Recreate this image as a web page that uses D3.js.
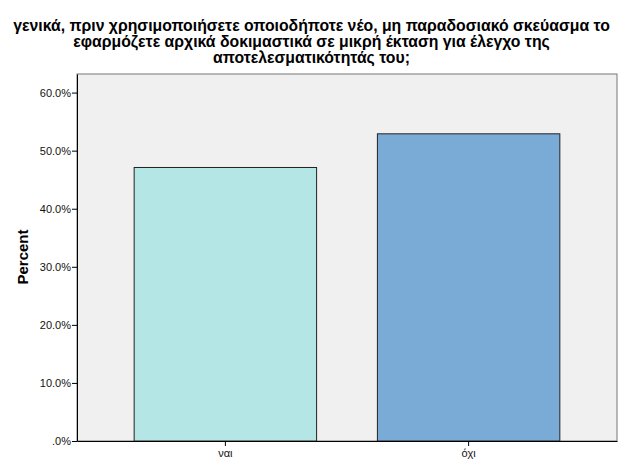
<!DOCTYPE html>
<html>
<head>
<meta charset="utf-8">
<script src="https://cdn.jsdelivr.net/npm/d3@7"></script>
<style>
  body { margin: 0; background: #fff; }
  text { font-family: Arial, "Liberation Sans", sans-serif; }
</style>
</head>
<body>
<script>
// data
const categories = ["ναι", "όχι"];
const percents = [47.1, 52.9];
const barColors = ["#b5e6e6", "#7aaad6"];
const yTicks = [0, 10, 20, 30, 40, 50, 60];
const titleLines = [
  "γενικά, πριν χρησιμοποιήσετε οποιοδήποτε νέο, μη παραδοσιακό σκεύασμα το",
  "εφαρμόζετε αρχικά δοκιμαστικά σε μικρή έκταση για έλεγχο της",
  "αποτελεσματικότητάς του;"
];

const w = 625, h = 462;
const plotLeft = 77, plotRight = 617, plotTop = 74, plotBottom = 441;

const svg = d3.select("body").append("svg")
  .attr("width", w)
  .attr("height", h);

// plot background
svg.append("rect")
  .attr("x", plotLeft).attr("y", plotTop)
  .attr("width", plotRight - plotLeft).attr("height", plotBottom - plotTop)
  .attr("fill", "#f0f0f0")
  .attr("stroke", "#777").attr("stroke-width", 1);

const x = d3.scaleBand()
  .domain(categories)
  .range([plotLeft, plotRight])
  .paddingInner(0.25)
  .paddingOuter(0.235);

const y = d3.scaleLinear()
  .domain([0, 63.2])
  .range([plotBottom, plotTop]);

svg.selectAll("rect.bar")
  .data(percents)
  .enter()
  .append("rect")
  .attr("class", "bar")
  .attr("x", (d, i) => x(categories[i]))
  .attr("y", d => y(d))
  .attr("width", x.bandwidth())
  .attr("height", d => plotBottom - y(d))
  .attr("fill", (d, i) => barColors[i])
  .attr("stroke", "#222").attr("stroke-width", 1);

// y axis
const yAxis = svg.append("g")
  .attr("transform", `translate(${plotLeft},0)`)
  .call(d3.axisLeft(y).tickValues(yTicks).tickSize(5).tickSizeOuter(0)
    .tickFormat(d => d === 0 ? ".0%" : d.toFixed(1) + "%"));
yAxis.select(".domain").attr("stroke", "#000");
yAxis.selectAll(".tick line").attr("stroke", "#000");
yAxis.selectAll(".tick text")
  .attr("font-size", 11).attr("fill", "#111").attr("x", -6)
  .style("font-family", "Arial, 'Liberation Sans', sans-serif");

// x axis
const xAxis = svg.append("g")
  .attr("transform", `translate(0,${plotBottom})`)
  .call(d3.axisBottom(x).tickSize(5).tickSizeOuter(0));
xAxis.select(".domain").attr("stroke", "#000");
xAxis.selectAll(".tick line").attr("stroke", "#000");
xAxis.selectAll(".tick text")
  .attr("font-size", 11).attr("fill", "#111").attr("y", 8)
  .style("font-family", "Arial, 'Liberation Sans', sans-serif");

// y label
svg.append("text")
  .attr("transform", "translate(28,257) rotate(-90)")
  .attr("text-anchor", "middle")
  .attr("font-size", 15).attr("font-weight", "bold")
  .text("Percent");

// title
svg.selectAll("text.title")
  .data(titleLines)
  .enter()
  .append("text")
  .attr("class", "title")
  .attr("x", 311.5)
  .attr("y", (d, i) => 31 + i * 16)
  .attr("text-anchor", "middle")
  .attr("font-size", 15.8).attr("font-weight", "bold")
  .text(d => d);
</script>
</body>
</html>
